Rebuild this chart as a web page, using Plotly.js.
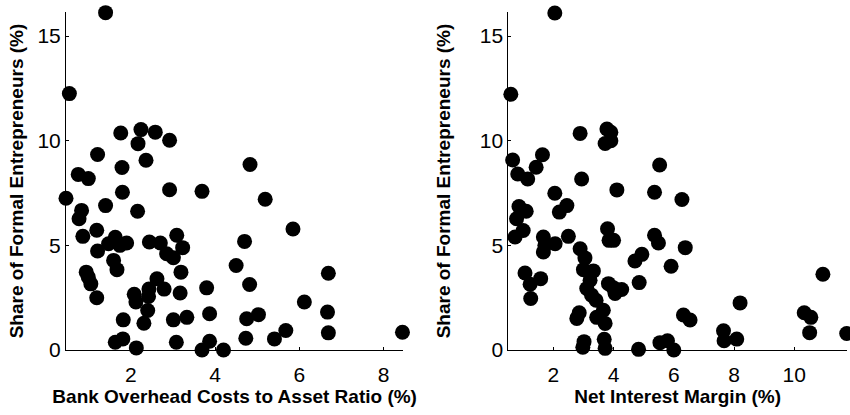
<!DOCTYPE html>
<html>
<head>
<meta charset="utf-8">
<script src="https://cdn.plot.ly/plotly-3.0.1.min.js"></script>
<style>html,body{margin:0;padding:0;background:#fff;}#chart{width:850px;height:415px;}</style>
</head>
<body>
<div id="chart"></div>
<script>
// Left panel: bank overhead costs to asset ratio (%) vs share of formal entrepreneurs (%)
const overheadX = [1.40,0.54,0.46,0.75,0.99,1.21,1.76,2.24,2.58,2.92,2.17,2.36,1.79,1.80,2.92,3.69,4.83,5.19,5.85,1.40,2.16,0.83,0.77,0.86,1.19,1.21,1.63,1.47,1.74,1.90,1.59,1.67,0.94,0.99,1.05,1.19,2.44,2.70,2.85,3.01,3.09,3.23,3.19,2.08,2.12,2.43,2.42,2.62,2.79,2.40,2.31,1.82,3.17,3.01,3.33,3.87,3.80,1.63,1.81,2.13,3.08,3.69,3.87,4.20,4.50,4.70,4.82,4.75,5.03,4.73,5.41,5.68,6.12,6.69,6.67,6.69,8.45];
const overheadY = [16.12,12.25,7.25,8.39,8.19,9.34,10.37,10.53,10.41,10.02,9.86,9.07,8.72,7.54,7.66,7.58,8.86,7.20,5.78,6.90,6.63,6.67,6.27,5.43,5.72,4.73,5.39,5.08,5.00,5.11,4.28,3.84,3.72,3.48,3.16,2.50,5.16,5.11,4.60,4.41,5.48,4.89,3.72,2.66,2.29,2.91,2.56,3.40,2.91,1.89,1.28,1.44,2.72,1.44,1.56,1.73,2.97,0.37,0.53,0.10,0.37,0.00,0.42,0.00,4.04,5.19,3.13,1.49,1.69,0.56,0.53,0.93,2.29,3.67,1.81,0.82,0.85];

// Right panel: net interest margin (%) vs share of formal entrepreneurs (%)
const marginX = [2.05,0.59,0.48,0.65,0.82,1.15,1.43,1.64,0.86,1.10,0.78,0.73,1.00,1.67,1.72,1.67,2.06,2.50,1.06,1.23,1.25,1.58,2.05,2.20,2.45,2.89,2.94,3.78,3.91,3.72,3.91,4.11,5.36,5.53,6.27,3.80,3.85,4.00,5.36,5.49,6.38,5.91,4.71,4.94,4.85,2.89,3.05,3.00,3.33,3.22,3.11,3.27,3.42,3.66,3.44,3.72,2.86,2.78,3.02,2.98,3.69,3.72,3.83,3.99,4.05,4.27,4.83,5.54,5.79,6.00,6.32,6.54,7.65,7.67,8.09,8.20,10.33,10.55,10.51,10.95,11.74];
const marginY = [16.10,12.22,7.22,9.08,8.41,8.17,8.73,9.33,6.86,6.63,6.27,5.40,5.71,5.40,5.00,4.68,5.08,5.43,3.68,3.14,2.46,3.41,7.49,6.59,6.90,10.35,8.17,10.56,10.40,9.87,10.00,7.65,7.54,8.84,7.19,5.79,5.24,5.24,5.48,5.11,4.89,4.00,4.25,4.57,3.22,4.84,4.40,3.84,3.78,3.33,2.94,2.62,2.38,1.90,1.56,1.27,1.78,1.51,0.40,0.13,0.51,0.08,3.17,2.98,2.70,2.89,0.03,0.35,0.44,0.00,1.67,1.43,0.92,0.44,0.52,2.25,1.78,1.56,0.83,3.62,0.79];

const leftTicks = [2,4,6,8];
const rightTicks = [2,4,6,8,10];
const yTicks = [0,5,10,15];

const marker = {size: 15, color: '#000000', line: {width: 0}};
const traces = [
  {x: overheadX, y: overheadY, type: 'scatter', mode: 'markers', marker: marker, xaxis: 'x', yaxis: 'y', cliponaxis: false, hoverinfo: 'x+y'},
  {x: marginX, y: marginY, type: 'scatter', mode: 'markers', marker: marker, xaxis: 'x2', yaxis: 'y2', cliponaxis: false, hoverinfo: 'x+y'}
];

const tickFont = {family: 'Liberation Sans, Arial, sans-serif', size: 21, color: '#000'};
const titleFont = {family: 'Liberation Sans, Arial, sans-serif', size: 19, color: '#000', weight: 'bold'};

function xAxis(domain, range, ticks, title, anchor) {
  return {domain: domain, range: range, anchor: anchor, tickvals: ticks, ticktext: ticks.map(String),
    showline: true, linecolor: '#000', linewidth: 1, ticks: 'inside', ticklen: 3, tickcolor: '#000',
    showgrid: false, zeroline: false, tickfont: tickFont, automargin: false, ticklabelstandoff: 6,
    title: {text: title, font: titleFont, standoff: 3}};
}
function yAxis(anchor, standoff) {
  return {domain: [0, 1], range: [0, 16.15], anchor: anchor, tickvals: yTicks, ticktext: yTicks.map(String),
    showline: true, linecolor: '#000', linewidth: 1, ticks: 'inside', ticklen: 3, tickcolor: '#000',
    showgrid: false, zeroline: false, tickfont: tickFont, automargin: false,
    title: {text: 'Share of Formal Entrepreneurs (%)', font: titleFont, standoff: standoff}};
}

const layout = {
  width: 850, height: 415,
  margin: {l: 66, r: 3, t: 12, b: 65},
  paper_bgcolor: '#fff', plot_bgcolor: '#fff',
  showlegend: false,
  xaxis: xAxis([0, 0.4319], [0.46, 8.47], leftTicks, 'Bank Overhead Costs to Asset Ratio (%)', 'y'),
  yaxis: yAxis('x', 8),
  xaxis2: xAxis([0.5663, 1], [0.505, 11.75], rightTicks, 'Net Interest Margin (%)', 'y2'),
  yaxis2: yAxis('x2', 24)
};

Plotly.newPlot('chart', traces, layout, {displayModeBar: false, staticPlot: true});
</script>
</body>
</html>
